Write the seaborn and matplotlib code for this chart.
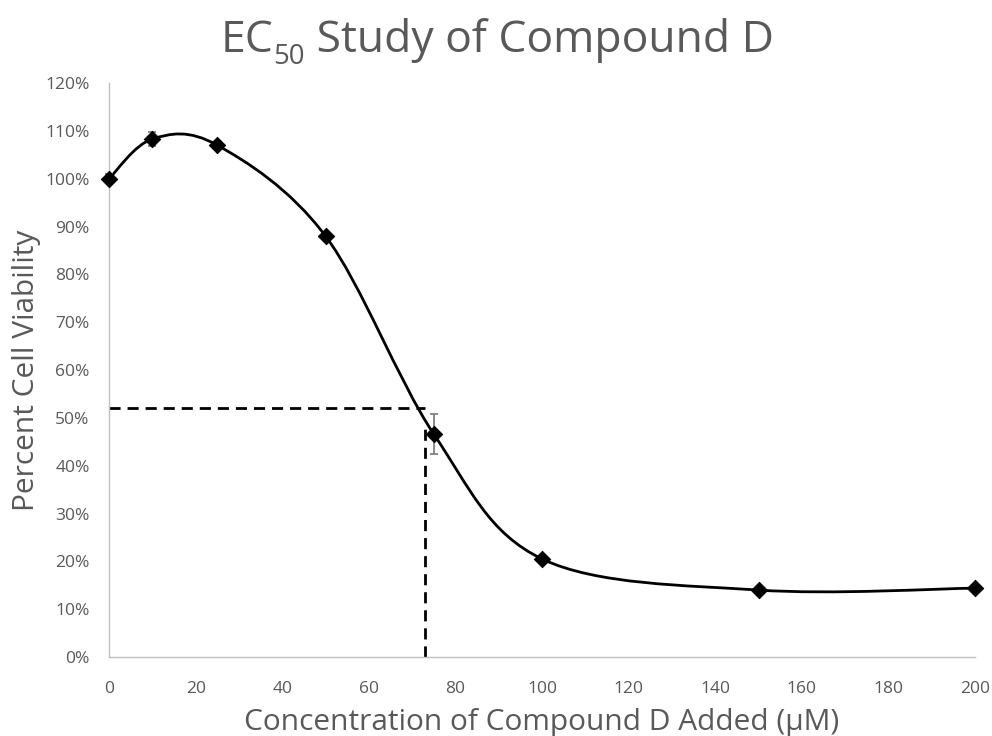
import numpy as np
import matplotlib
matplotlib.use("Agg")
import matplotlib.pyplot as plt
from matplotlib.path import Path
from matplotlib.patches import PathPatch
from matplotlib.ticker import FuncFormatter, MultipleLocator
import seaborn as sns
import pandas as pd

conc = [0, 10, 25, 50, 75, 100, 150, 200]
viability = [100.0, 108.3, 107.0, 88.0, 46.6, 20.5, 14.0, 14.4]
errors = [1.0, 1.5, 0.5, 0.5, 4.2, 0.5, 0.3, 0.3]
ec50_x = 73
ec50_y = 52
ec50_vline_top = 48

sns.set_theme(style="white")
plt.rcParams['font.family'] = ['Open Sans', 'DejaVu Sans']

TXT = '#595959'
df = pd.DataFrame({'conc': conc, 'viability': viability})

fig = plt.figure(figsize=(9.92, 7.36), dpi=100)
ax = fig.add_axes([0.1099, 0.1073, 0.8731, 0.7799])

# smoothed line (Catmull-Rom style Bezier, like Excel smoothing)
pts = np.column_stack([conc, viability])
verts = [tuple(pts[0])]
codes = [Path.MOVETO]
n = len(pts)
for i in range(n - 1):
    p0 = pts[i - 1] if i > 0 else pts[i]
    p1 = pts[i]
    p2 = pts[i + 1]
    p3 = pts[i + 2] if i + 2 < n else pts[i + 1]
    c1 = p1 + (p2 - p0) / 6.0
    c2 = p2 - (p3 - p1) / 6.0
    verts += [tuple(c1), tuple(c2), tuple(p2)]
    codes += [Path.CURVE4] * 3
ax.add_patch(PathPatch(Path(verts, codes), facecolor='none', edgecolor='black', lw=2, zorder=3))

# dashed EC50 guides
ax.plot([0, ec50_x], [ec50_y, ec50_y], color='black', lw=2, ls=(0, (4, 2.5)), zorder=2)
ax.plot([ec50_x, ec50_x], [0, ec50_vline_top], color='black', lw=2, ls=(0, (4, 2.5)), zorder=2)

eb = ax.errorbar(conc, viability, yerr=errors, fmt='none', ecolor='#808080', elinewidth=1.3,
                 capsize=3, capthick=1.3, zorder=4)
for art in eb.get_children():
    art.set_clip_on(False)
sns.scatterplot(data=df, x='conc', y='viability', marker='D', s=70, color='black', edgecolor='black',
                ax=ax, zorder=5, legend=False, clip_on=False)

ax.set_xlim(0, 200)
ax.set_ylim(0, 120)
ax.xaxis.set_major_locator(MultipleLocator(20))
ax.yaxis.set_major_locator(MultipleLocator(10))
ax.yaxis.set_major_formatter(FuncFormatter(lambda v, p: f"{int(round(v))}%"))
ax.tick_params(axis='both', labelsize=12.5, colors=TXT, length=0)
ax.tick_params(axis='x', pad=17)
ax.tick_params(axis='y', pad=14)

for s in ['top', 'right']:
    ax.spines[s].set_visible(False)
for s in ['left', 'bottom']:
    ax.spines[s].set_color('#BFBFBF')
    ax.spines[s].set_linewidth(1)
ax.grid(False)

ax.set_xlabel('Concentration of Compound D Added (μM)', fontsize=21.5, color=TXT, labelpad=8)
ax.set_ylabel('Percent Cell Viability', fontsize=21.5, color=TXT, labelpad=3)

# title with lowered subscript, built from pieces
fig.canvas.draw()
r = fig.canvas.get_renderer()
tsize = 32
base_y = 736 - 52  # baseline in pixels
parts = [('EC', tsize, 0), ('50', tsize * 0.62, -12), (' Study of Compound D', tsize, 0)]
texts = []
widths = []
for s, fs, dy in parts:
    t = fig.text(0, 0, s, fontsize=fs, color=TXT, ha='left', va='baseline')
    widths.append(t.get_window_extent(r).width)
    texts.append((t, dy))
total = sum(widths)
x0 = 497 - total / 2
for (t, dy), w in zip(texts, widths):
    t.set_position((x0 / 992, (base_y + dy) / 736))
    x0 += w

fig.savefig('out.png', dpi=100, facecolor='white')
